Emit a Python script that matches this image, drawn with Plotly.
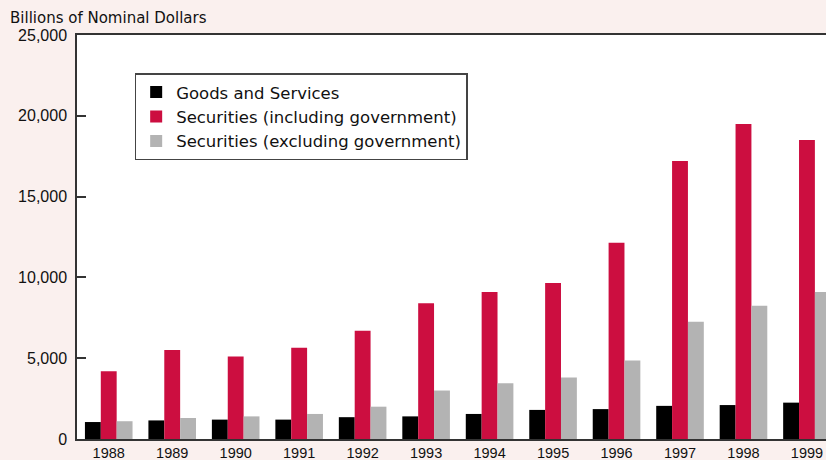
import plotly.graph_objects as go

years = ["1988", "1989", "1990", "1991", "1992", "1993", "1994", "1995", "1996", "1997", "1998", "1999"]
goods_services = [1050, 1150, 1200, 1200, 1350, 1400, 1550, 1800, 1850, 2050, 2100, 2250]
securities_incl_gov = [4200, 5500, 5100, 5650, 6700, 8400, 9100, 9650, 12150, 17200, 19500, 18500]
securities_excl_gov = [1100, 1300, 1400, 1550, 2000, 3000, 3450, 3800, 4850, 7250, 8250, 9100]
y_ticks = [0, 5000, 10000, 15000, 20000, 25000]
y_tick_text = ["0", "5,000", "10,000", "15,000", "20,000", "25,000"]

font_family = "DejaVu Sans, Liberation Sans, Arial, sans-serif"
tick_family = "Liberation Sans, Arial, sans-serif"

fig = go.Figure()
fig.add_trace(go.Bar(x=years, y=goods_services, name="Goods and Services",
                     marker=dict(color="#000000", line=dict(width=0))))
fig.add_trace(go.Bar(x=years, y=securities_incl_gov, name="Securities (including government)",
                     marker=dict(color="#CC0E40", line=dict(width=0))))
fig.add_trace(go.Bar(x=years, y=securities_excl_gov, name="Securities (excluding government)",
                     marker=dict(color="#B3B3B3", line=dict(width=0))))

fig.update_layout(
    width=826, height=460,
    margin=dict(l=77, r=0, t=35, b=21, pad=0),
    paper_bgcolor="#FAF0EE",
    plot_bgcolor="#FFFFFF",
    barmode="group",
    bargap=0.25,
    bargroupgap=0,
    font=dict(family=font_family, size=13, color="#111111"),
    showlegend=True,
    legend=dict(
        x=0.077, y=0.905, xanchor="left", yanchor="top",
        bgcolor="#FFFFFF", bordercolor="#444444", borderwidth=1.5,
        font=dict(family=font_family, size=16.5, color="#111111"),
        tracegroupgap=0, itemsizing="constant", itemwidth=30,
    ),
    annotations=[dict(
        text="Billions of Nominal Dollars", xref="paper", yref="paper",
        x=-0.0922, y=1.042, xanchor="left", yanchor="middle",
        showarrow=False, font=dict(family=font_family, size=15, color="#111111"),
    )],
)

fig.update_xaxes(
    type="category",
    range=[-0.5, 11.3],
    showline=True, linecolor="#333333", linewidth=1.5, mirror=True,
    ticks="", showgrid=False, automargin=False,
    tickfont=dict(family=tick_family, size=14.5, color="#111111"),
)
fig.update_yaxes(
    range=[0, 25000],
    tickvals=y_ticks, ticktext=y_tick_text,
    showline=True, linecolor="#333333", linewidth=1.5,
    ticks="inside", ticklen=9, tickwidth=1.5, tickcolor="#333333",
    showgrid=False, zeroline=False, automargin=False,
    ticklabelstandoff=5,
    tickfont=dict(family=tick_family, size=16, color="#111111"),
)

fig.write_html("out.html", config={"displayModeBar": False},
               post_script="document.body.style.margin='0';document.body.style.padding='0';")
